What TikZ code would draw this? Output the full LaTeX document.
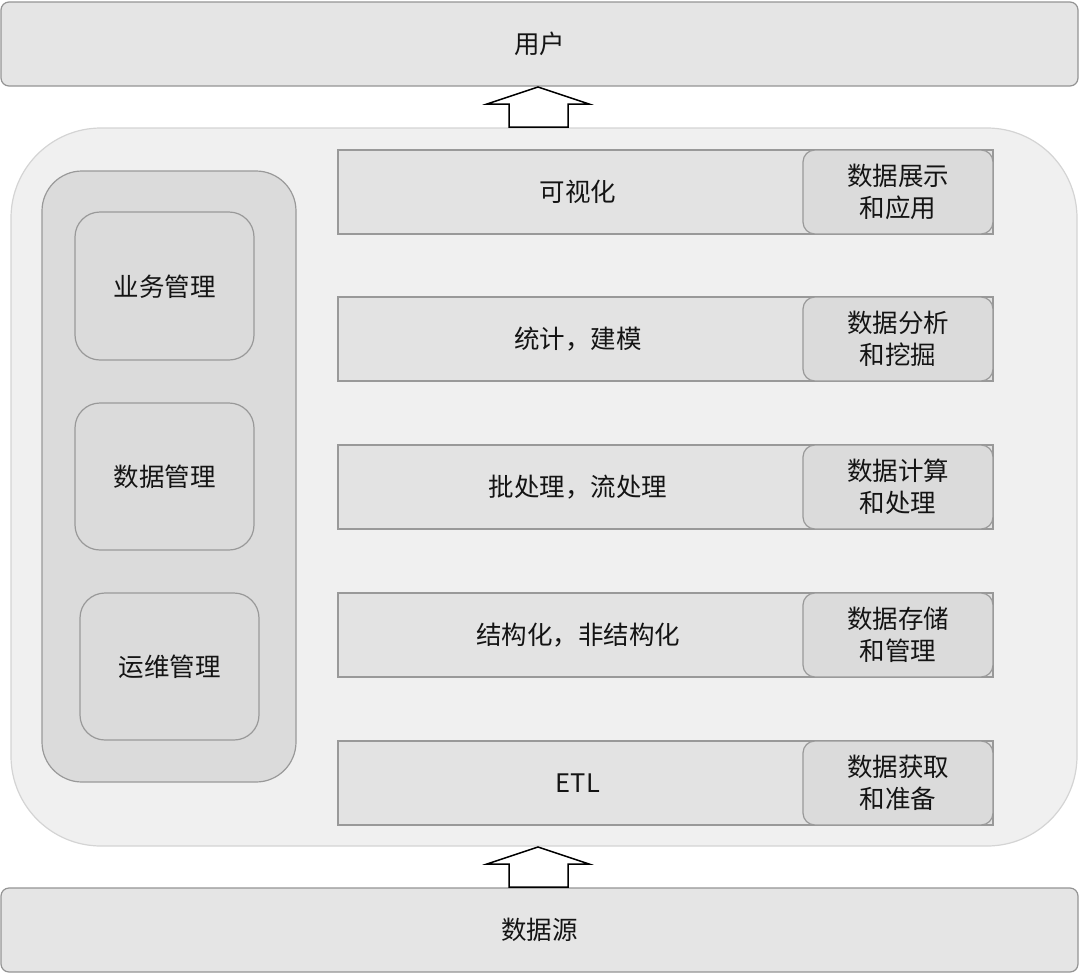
\documentclass[tikz,border=0pt]{standalone}
\usepackage{fontspec}
\setmainfont{Noto Sans CJK SC}
\begin{document}
\begin{tikzpicture}[x=1pt,y=-1pt,
  txt/.style={font=\fontsize{25.5}{32}\selectfont, text=black!92, align=center},
  band/.style={draw=black!42, fill=black!10, line width=1.2pt},
  rowbox/.style={draw=black!40, fill=black!11, line width=1.2pt},
  tagbox/.style={draw=black!40, fill=black!14, line width=1.2pt, rounded corners=12pt},
  blockarrow/.style={draw=black, fill=white, line width=1.5pt, line join=miter}]
\useasboundingbox (0,0) rectangle (1080,975);
% top / bottom bands
\draw[band, rounded corners=8pt] (1,2) rectangle (1078,86);
\node[txt] (user) at (539.5,44) {用户};
\draw[band, rounded corners=8pt] (1,888) rectangle (1078,972);
\node[txt] (src) at (539.5,930) {数据源};
% container
\draw[draw=black!17, fill=black!6, line width=1.2pt, rounded corners=90pt] (11,128) rectangle (1077,846);
\node (cont) at (544,487) {};
% arrows
\draw[blockarrow] (509,127) -- (509,104) -- (487,104) -- (538,87) -- (589,104) -- (568,104) -- (568,127) -- cycle;
\draw[blockarrow] (509,887) -- (509,864) -- (487,864) -- (538,847) -- (589,864) -- (568,864) -- (568,887) -- cycle;
% left panel
\draw[draw=black!40, fill=black!14, line width=1.2pt, rounded corners=40pt] (42,171) rectangle (296,782);
\draw[draw=black!40, fill=black!14, line width=1.2pt, rounded corners=25pt] (75,212) rectangle (254,360);
\node[txt] (biz) at (164.5,287) {业务管理};
\draw[draw=black!40, fill=black!14, line width=1.2pt, rounded corners=25pt] (75,403) rectangle (254,550);
\node[txt] (dm) at (164.5,477) {数据管理};
\draw[draw=black!40, fill=black!14, line width=1.2pt, rounded corners=25pt] (80,593) rectangle (259,740);
\node[txt] (ops) at (169.5,667) {运维管理};
% rows
\foreach \ya/\yb/\main/\tag/\nm in {150/234/可视化/数据展示\\和应用/r1, 297/381/统计，建模/数据分析\\和挖掘/r2, 445/529/批处理，流处理/数据计算\\和处理/r3, 593/677/结构化，非结构化/数据存储\\和管理/r4, 741/825/ETL/数据获取\\和准备/r5}{
  \draw[rowbox] (338,\ya) rectangle (993,\yb);
  \draw[tagbox] (803,\ya) rectangle (993,\yb);
  \node[txt] (\nm main) at (578,{(\ya+\yb)/2}) {\main};
  \node[txt] (\nm tag) at (898,{(\ya+\yb)/2}) {\tag};
}
\end{tikzpicture}
\end{document}
